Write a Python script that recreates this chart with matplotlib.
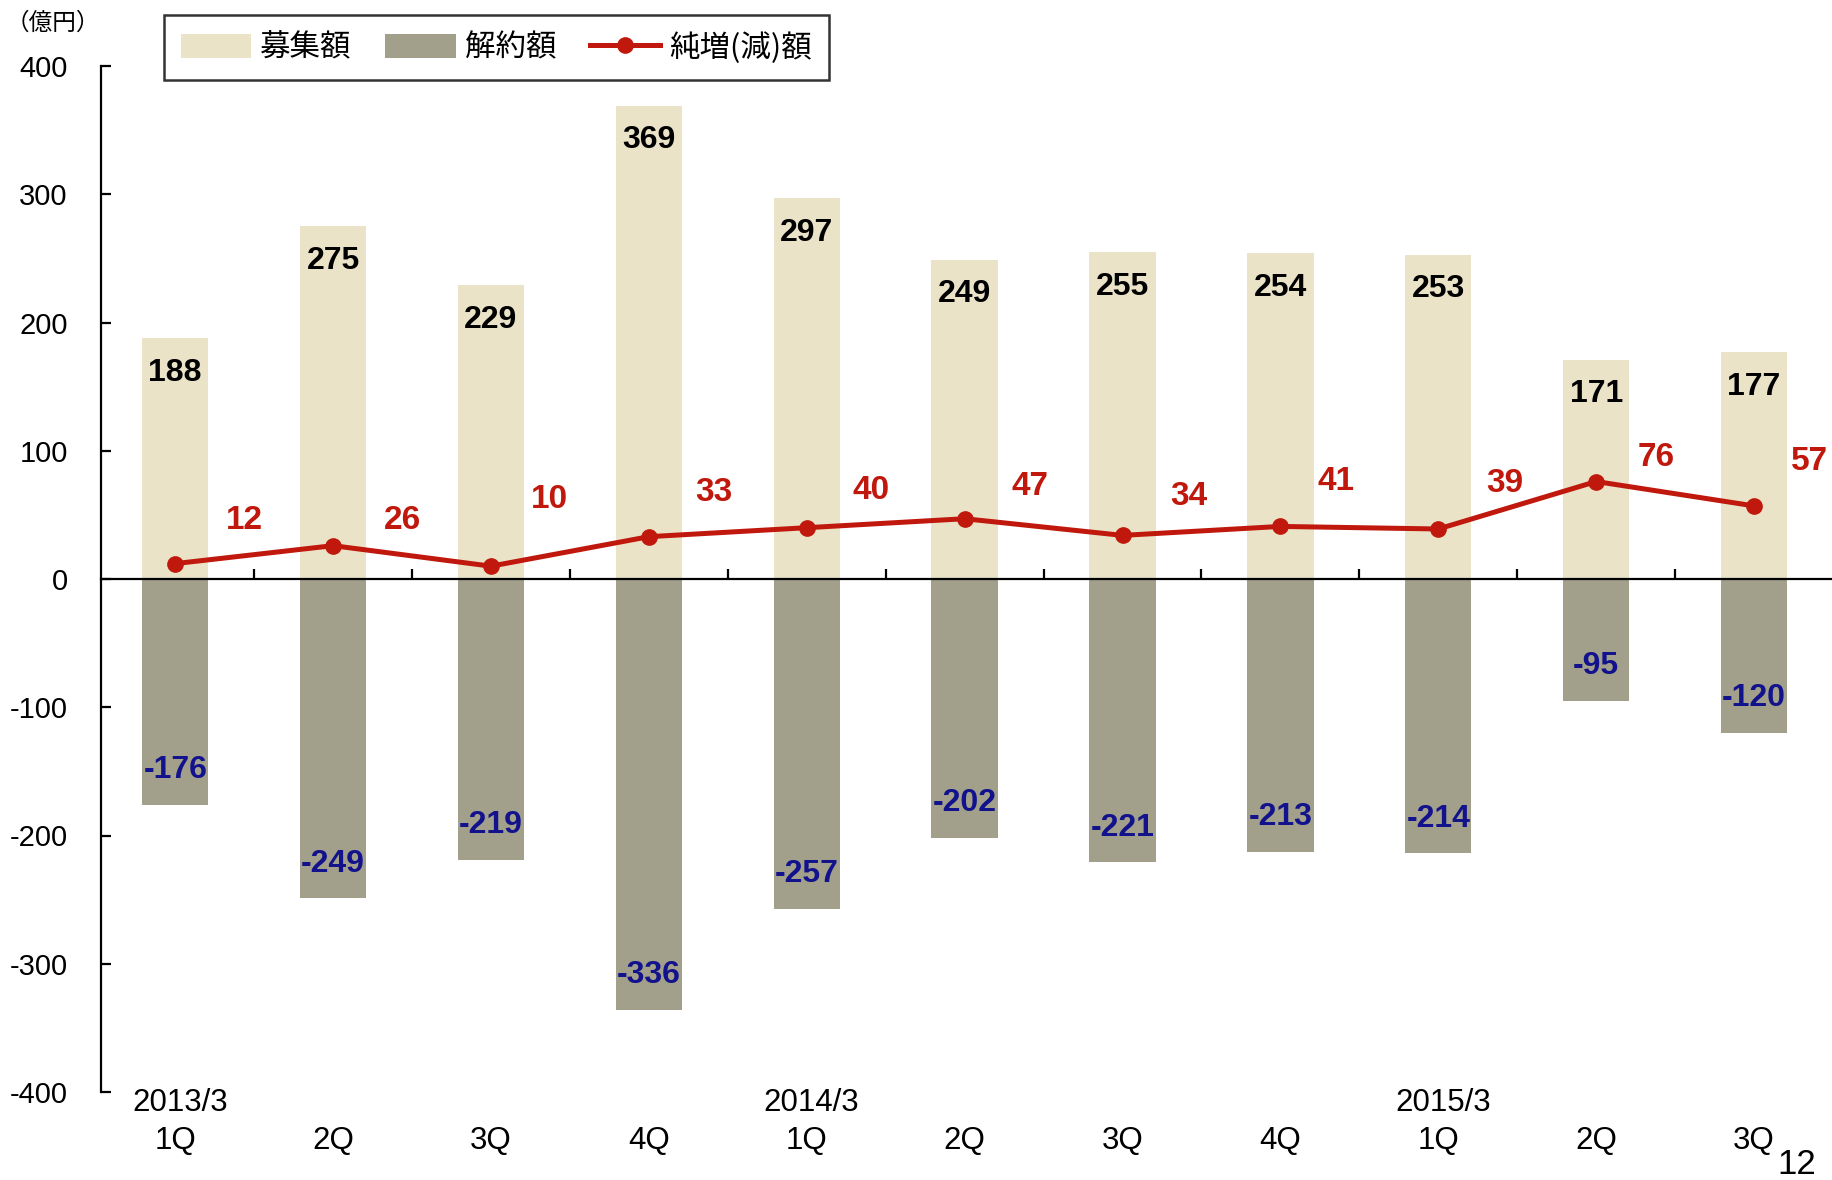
import matplotlib.pyplot as plt
import numpy as np
from matplotlib.patches import Patch
from matplotlib.lines import Line2D

plt.rcParams['font.family'] = ['Liberation Sans', 'Noto Sans CJK JP', 'DejaVu Sans']
plt.rcParams['axes.unicode_minus'] = False

# ---------------------------------------------
# Data (億円)
# ---------------------------------------------
quarters = ["1Q", "2Q", "3Q", "4Q", "1Q", "2Q", "3Q", "4Q", "1Q", "2Q", "3Q"]
years = ["2013/3", "", "", "", "2014/3", "", "", "", "2015/3", "", ""]

subscriptions = [188, 275, 229, 369, 297, 249, 255, 254, 253, 171, 177]
redemptions = [-176, -249, -219, -336, -257, -202, -221, -213, -214, -95, -120]
net_change = [12, 26, 10, 33, 40, 47, 34, 41, 39, 76, 57]

# label nudges for the net line (points)
label_dx = [50, 50, 42, 47, 46, 47, 48, 40, 48, 43, 40]
label_dy = [31, 18, 48, 32, 27, 23, 28, 32, 33, 17, 32]

sub_color = "#EAE3C8"
red_color = "#A2A08B"
line_color = "#C0180C"
neg_text = "#12128C"

x = np.arange(len(quarters))
bar_w = 0.42

fig = plt.figure(figsize=(18.33, 11.8), dpi=100)
ax = fig.add_axes([101 / 1833, 88 / 1180, 1 - 101 / 1833, (1092 - 66) / 1180])

ax.bar(x, subscriptions, width=bar_w, color=sub_color, zorder=1)
ax.bar(x, redemptions, width=bar_w, color=red_color, zorder=1)
ax.plot(x, net_change, color=line_color, lw=3.6, marker="o", ms=11, zorder=3)

ax.set_ylim(-400, 400)
ax.set_xlim(-0.47, 10.5)
ax.set_yticks(np.arange(-400, 401, 100))

ax.spines["top"].set_visible(False)
ax.spines["right"].set_visible(False)
ax.spines["bottom"].set_position(("data", 0))
ax.spines["bottom"].set_linewidth(1.6)
ax.spines["left"].set_linewidth(1.6)
ax.spines["bottom"].set_zorder(2)

ax.set_xticks(np.arange(0.5, 10, 1))
ax.tick_params(axis="x", direction="in", length=7, width=1.6, labelbottom=False)
ax.tick_params(axis="y", direction="in", length=7, width=1.6, labelsize=21, pad=24)

# Category labels under the plot
for xi, q, yr in zip(x, quarters, years):
    ax.annotate(q, (xi, 0), xycoords=ax.get_xaxis_transform(),
                xytext=(0, -35), textcoords="offset points",
                ha="center", va="center", fontsize=22.5)
    if yr:
        ax.annotate(yr, (xi + 0.03, 0), xycoords=ax.get_xaxis_transform(),
                    xytext=(0, -8), textcoords="offset points",
                    ha="center", va="center", fontsize=22.5)

# Bar value labels
for xi, v in zip(x, subscriptions):
    ax.annotate(str(v), (xi, v), xytext=(0, -25), textcoords="offset points",
                ha="center", va="center", fontsize=23, fontweight="bold", color="black")
for xi, v in zip(x, redemptions):
    ax.annotate(str(v), (xi, v), xytext=(0, 25), textcoords="offset points",
                ha="center", va="center", fontsize=23, fontweight="bold", color=neg_text)

# Net change labels
for xi, v, dx, dy in zip(x, net_change, label_dx, label_dy):
    ax.annotate(str(v), (xi, v), xytext=(dx, dy), textcoords="offset points",
                ha="center", va="center", fontsize=24, fontweight="bold", color=line_color)

# Legend
handles = [
    Patch(facecolor=sub_color, edgecolor="none"),
    Patch(facecolor=red_color, edgecolor="none"),
    Line2D([0], [0], color=line_color, lw=3.6, marker="o", ms=11),
]
labels = ["募集額", "解約額", "純増(減)額"]
leg = fig.legend(handles, labels, loc="upper left",
                 bbox_to_anchor=(164 / 1833, 1 - 15 / 1180), borderaxespad=0,
                 ncol=3, frameon=True, fancybox=False,
                 handlelength=2.3, handleheight=0.8, handletextpad=0.3,
                 columnspacing=1.1, borderpad=0.55,
                 prop={"family": ["Noto Sans CJK JP"], "size": 22})
leg.get_frame().set_edgecolor("black")
leg.get_frame().set_linewidth(1.8)

fig.text(6 / 1833, 1 - 23 / 1180, "（億円）", fontsize=17,
         family=["Noto Sans CJK JP"], ha="left", va="center")
fig.text(1797 / 1833, 1 - 1164 / 1180, "12", fontsize=25, ha="center", va="center")

fig.savefig("out.png", dpi=100)
